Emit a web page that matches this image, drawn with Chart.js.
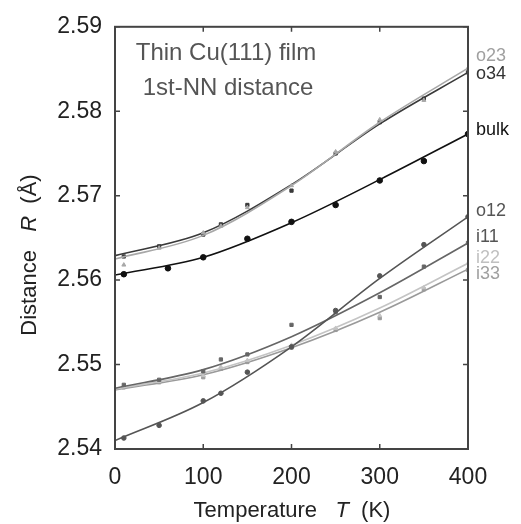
<!DOCTYPE html>
<html>
<head>
<meta charset="utf-8">
<script src="https://cdn.jsdelivr.net/npm/chart.js@4"></script>
<style>
  body { margin: 0; background: #fff; }
  #wrap { width: 521px; height: 524px; }
</style>
</head>
<body>
<div id="wrap"><canvas id="grafico" width="521" height="524"></canvas></div>
<script>
// Curvas de ajuste
const fitT = [0, 100, 200, 300, 400];
const fitO23 = [2.5625, 2.5653, 2.5712, 2.5787, 2.5851];
const fitO34 = [2.5629, 2.5656, 2.5713, 2.5785, 2.5846];
const fitBulk = [2.5606, 2.5627, 2.5668, 2.5719, 2.5773];
const fitO12 = [2.5410, 2.5455, 2.5521, 2.5602, 2.5675];
const fitI11 = [2.5472, 2.5494, 2.5533, 2.5585, 2.5644];
const fitI22 = [2.5471, 2.5490, 2.5523, 2.5567, 2.5620];
const fitI33 = [2.5470, 2.5488, 2.5520, 2.5562, 2.5613];

// Puntos calculados
const tempBulk = [10, 60, 100, 150, 200, 250, 300, 350, 400];
const puntosBulk = [2.5607, 2.5614, 2.5627, 2.5649, 2.5669, 2.5689, 2.5718, 2.5741, 2.5773];
const tempCapas = [10, 50, 100, 120, 150, 200, 250, 300, 350, 400];
const puntosO12 = [2.5413, 2.5428, 2.5457, 2.5466, 2.5491, 2.5521, 2.5564, 2.5605, 2.5642, 2.5675];
const puntosI11 = [2.5476, 2.5482, 2.5492, 2.5506, 2.5512, 2.5547, 2.5562, 2.5580, 2.5616, 2.5644];
const puntosI22 = [2.5474, 2.5480, 2.5487, 2.5497, 2.5505, 2.5523, 2.5543, 2.5558, 2.5591, 2.5620];
const puntosI33 = [2.5473, 2.5479, 2.5485, 2.5495, 2.5503, 2.5520, 2.5541, 2.5555, 2.5589, 2.5612];
const puntosO23 = [2.5618, 2.5638, 2.5656, 2.5664, 2.5686, 2.5712, 2.5752, 2.5790, 2.5813, 2.5851];
const puntosO34 = [2.5628, 2.5640, 2.5654, 2.5666, 2.5689, 2.5706, 2.5750, 2.5787, 2.5815, 2.5846];

const xTicks = [0, 100, 200, 300, 400];
const yTicks = [2.54, 2.55, 2.56, 2.57, 2.58, 2.59];

const fuente = "'Liberation Sans', Arial, sans-serif";

function xy(ts, vs) {
    return ts.map((t, i) => ({ x: t, y: vs[i] }));
}

// nombre, ajuste, temps, puntos, color linea, color etiqueta, marcador, desplazamiento etiqueta
const series = [
    ["o23", fitO23, tempCapas, puntosO23, "#a8a8a8", "#a0a0a0", "triangle", -12],
    ["o34", fitO34, tempCapas, puntosO34, "#3a3a3a", "#333333", "rect", 2],
    ["bulk", fitBulk, tempBulk, puntosBulk, "#111111", "#111111", "circle", -4],
    ["o12", fitO12, tempCapas, puntosO12, "#555555", "#555555", "circle", -6],
    ["i11", fitI11, tempCapas, puntosI11, "#666666", "#555555", "rect", -6],
    ["i22", fitI22, tempCapas, puntosI22, "#c4c4c4", "#c0c0c0", "triangle", -5],
    ["i33", fitI33, tempCapas, puntosI33, "#9a9a9a", "#a0a0a0", "rect", 5]
];

const datasets = [];
series.forEach(s => {
    datasets.push({
        label: s[0] + " fit",
        data: xy(fitT, s[1]),
        showLine: true,
        borderColor: s[4],
        borderWidth: 1.6,
        pointRadius: 0,
        cubicInterpolationMode: "monotone"
    });
    datasets.push({
        label: s[0],
        data: xy(s[2], s[3]),
        showLine: false,
        pointStyle: s[6],
        pointRadius: s[0] === "bulk" ? 2.8 : 2.3,
        backgroundColor: s[4],
        borderColor: s[4],
        borderWidth: 1
    });
});

// Marco, marcas interiores, textos
const decoracion = {
    id: "decoracion",
    afterDraw(chart) {
        const { ctx, chartArea: a, scales } = chart;
        const sx = scales.x, sy = scales.y;
        ctx.save();
        ctx.strokeStyle = "#444";
        ctx.lineWidth = 2;
        ctx.strokeRect(a.left, a.top, a.right - a.left, a.bottom - a.top);
        ctx.lineWidth = 1.5;
        ctx.beginPath();
        xTicks.forEach(t => {
            const px = sx.getPixelForValue(t);
            ctx.moveTo(px, a.bottom); ctx.lineTo(px, a.bottom - 5);
            ctx.moveTo(px, a.top); ctx.lineTo(px, a.top + 5);
        });
        yTicks.forEach(v => {
            const py = sy.getPixelForValue(v);
            ctx.moveTo(a.left, py); ctx.lineTo(a.left + 5, py);
            ctx.moveTo(a.right, py); ctx.lineTo(a.right - 5, py);
        });
        ctx.stroke();

        // etiquetas a la derecha
        ctx.font = "18px " + fuente;
        ctx.textBaseline = "middle";
        ctx.textAlign = "left";
        series.forEach(s => {
            const ult = s[1][s[1].length - 1];
            ctx.fillStyle = s[5];
            ctx.fillText(s[0], a.right + 8, sy.getPixelForValue(ult) + s[7]);
        });

        // titulo interno
        ctx.fillStyle = "#555";
        ctx.font = "24px " + fuente;
        ctx.textAlign = "center";
        ctx.fillText("Thin Cu(111) film", 226, 53);
        ctx.fillText("1st-NN distance", 228, 88);

        // titulos de ejes con variable en cursiva
        ctx.fillStyle = "#222";
        function textoMixto(partes, cx, cy) {
            let total = 0;
            partes.forEach(p => { ctx.font = p[1] + "22px " + fuente; total += ctx.measureText(p[0]).width; });
            let x = cx - total / 2;
            ctx.textAlign = "left";
            partes.forEach(p => {
                ctx.font = p[1] + "22px " + fuente;
                ctx.fillText(p[0], x, cy);
                x += ctx.measureText(p[0]).width;
            });
        }
        textoMixto([["Temperature   ", ""], ["T", "italic "], ["  (K)", ""]], 292, 511);
        ctx.translate(30, 255);
        ctx.rotate(-Math.PI / 2);
        textoMixto([["Distance   ", ""], ["R", "italic "], ["  (Å)", ""]], 0, 0);
        ctx.restore();
    }
};

new Chart(document.getElementById("grafico").getContext("2d"), {
    type: "scatter",
    data: { datasets: datasets },
    options: {
        responsive: false,
        animation: false,
        layout: { padding: 0 },
        plugins: { legend: { display: false }, tooltip: { enabled: false } },
        scales: {
            x: {
                type: "linear", position: "bottom", min: 0, max: 400,
                afterFit: s => { s.height = 75; },
                afterBuildTicks: s => { s.ticks = xTicks.map(v => ({ value: v })); },
                grid: { display: false, drawTicks: false },
                border: { display: false },
                ticks: { padding: 15, color: "#222", font: { size: 23, family: fuente } }
            },
            x2: {
                type: "linear", position: "top", min: 0, max: 400,
                afterFit: s => { s.height = 20; },
                grid: { display: false }, border: { display: false },
                ticks: { display: false }
            },
            y: {
                type: "linear", position: "left", min: 2.54, max: 2.59,
                afterFit: s => { s.width = 115; },
                afterBuildTicks: s => { s.ticks = yTicks.map(v => ({ value: v })); },
                grid: { display: false, drawTicks: false },
                border: { display: false },
                ticks: { padding: 13, color: "#222", font: { size: 23, family: fuente },
                         callback: v => v.toFixed(2) }
            },
            y2: {
                type: "linear", position: "right", min: 2.54, max: 2.59,
                afterFit: s => { s.width = 53; },
                grid: { display: false }, border: { display: false },
                ticks: { display: false }
            }
        }
    },
    plugins: [decoracion]
});
</script>
</body>
</html>
